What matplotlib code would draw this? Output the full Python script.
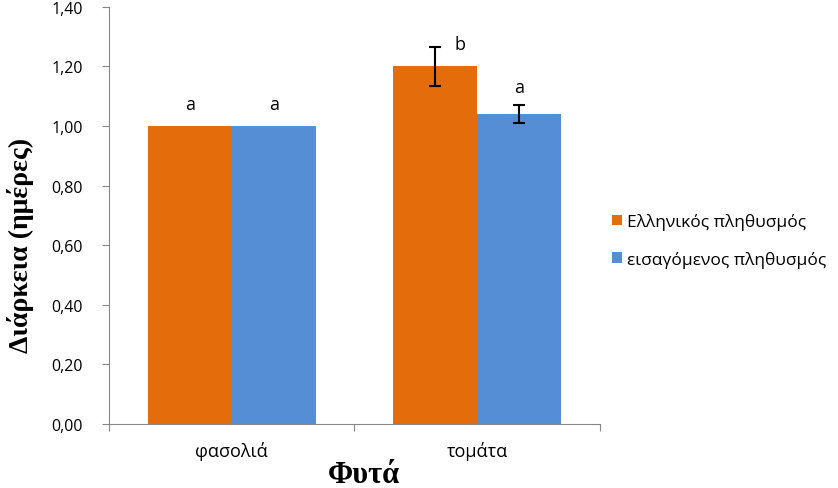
import matplotlib
matplotlib.use("Agg")
import matplotlib.pyplot as plt
import numpy as np

plants = ["φασολιά", "τομάτα"]
greek = [1.00, 1.20]
greek_err = [0.0, 0.065]
imported = [1.00, 1.04]
imported_err = [0.0, 0.03]
letters_greek = ["a", "b"]
letters_imported = ["a", "a"]
series_names = ["Ελληνικός πληθυσμός", "εισαγόμενος πληθυσμός"]

C_OR = "#E46C0A"; C_BL = "#558ED5"; C_AX = "#868686"
SANS = ["Open Sans", "DejaVu Sans"]
SERIF = ["Liberation Serif", "DejaVu Serif"]

fig = plt.figure(figsize=(8.38, 4.89), dpi=100)
ax = fig.add_axes([0.130, 0.131, 0.586, 0.853])

x = np.arange(len(plants))
w = 0.342
ax.bar(x - w / 2, greek, w, color=C_OR, label=series_names[0])
ax.bar(x + w / 2, imported, w, color=C_BL, label=series_names[1])
for xs, vals, errs in [(x - w / 2, greek, greek_err), (x + w / 2, imported, imported_err)]:
    for xi, v, e in zip(xs, vals, errs):
        if e > 0:
            ax.errorbar(xi, v, yerr=e, fmt="none", ecolor="black", elinewidth=1.5, capsize=4, capthick=1.5)

# significance letters
for xs, vals, errs, lets, dx in [(x - w / 2, greek, greek_err, letters_greek, 0.1),
                                 (x + w / 2, imported, imported_err, letters_imported, 0.0)]:
    for xi, v, e, t in zip(xs, vals, errs, lets):
        off = 0.075 if e == 0 else e + 0.06
        if dx and e > 0:
            off = e + 0.01
        ax.text(xi + (dx if e > 0 else 0), v + off, t, ha="center", va="center",
                fontsize=13, family=SANS)

ax.set_xlim(-0.5, 1.5)
ax.set_ylim(0, 1.4)
yt = np.arange(0, 1.41, 0.2)
ax.set_yticks(yt)
ax.set_yticklabels([f"{v:.2f}".replace(".", ",") for v in yt], family=SANS, fontsize=11.5)
ax.set_xticks([-0.5, 0.5, 1.5])
ax.set_xticklabels([])
ax.set_xticks(x, minor=True)
ax.set_xticklabels(plants, minor=True, family=SANS, fontsize=13)
ax.tick_params(axis="x", which="minor", length=0, pad=12)
ax.tick_params(axis="x", which="major", length=5, color=C_AX, direction="out")
ax.tick_params(axis="y", length=5, color=C_AX, direction="out", pad=14)

for s in ["top", "right"]:
    ax.spines[s].set_visible(False)
for s in ["left", "bottom"]:
    ax.spines[s].set_color(C_AX)

ax.set_ylabel("Διάρκεια (ημέρες)", family=SERIF, fontsize=20, fontweight="bold", va="center")
ax.yaxis.set_label_coords(-0.181, 0.43)
ax.set_xlabel("Φυτά", family=SERIF, fontsize=22, fontweight="bold", labelpad=0)
ax.xaxis.set_label_coords(0.52, -0.086)

ax.legend(loc="center left", bbox_to_anchor=(1.0, 0.44), frameon=False,
          prop={"family": SANS, "size": 12.5}, handlelength=0.55, handleheight=0.55,
          handletextpad=0.3, labelspacing=1.2, borderaxespad=0.3)

fig.savefig("out.png", dpi=100)
